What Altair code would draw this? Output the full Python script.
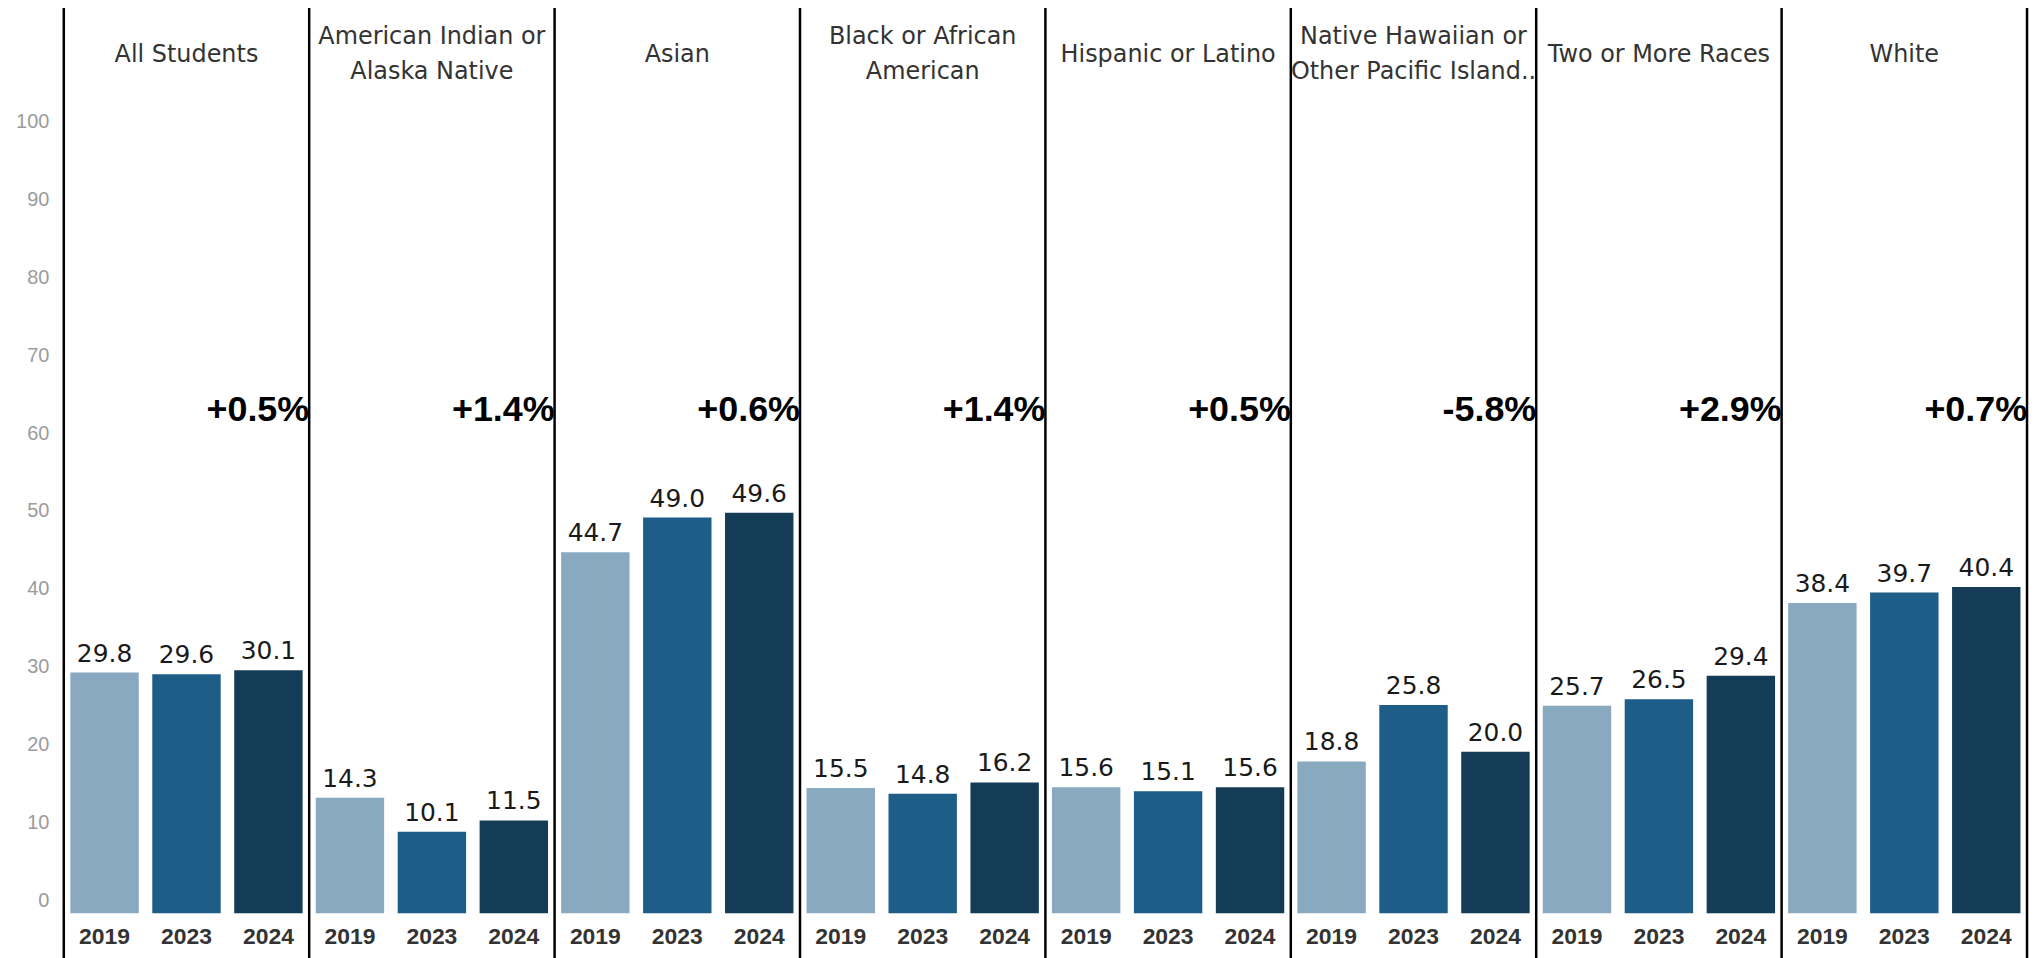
import altair as alt
import pandas as pd

groups = ["All Students", "American Indian or Alaska Native", "Asian",
          "Black or African American", "Hispanic or Latino",
          "Native Hawaiian or Other Pacific Islander", "Two or More Races", "White"]
headers = ["All Students", "American Indian or\nAlaska Native", "Asian",
           "Black or African\nAmerican", "Hispanic or Latino",
           "Native Hawaiian or\nOther Pacific Island..", "Two or More Races", "White"]
years = ["2019", "2023", "2024"]
v2019 = [29.8, 14.3, 44.7, 15.5, 15.6, 18.8, 25.7, 38.4]
v2023 = [29.6, 10.1, 49.0, 14.8, 15.1, 25.8, 26.5, 39.7]
v2024 = [30.1, 11.5, 49.6, 16.2, 15.6, 20.0, 29.4, 40.4]
changes = ["+0.5%", "+1.4%", "+0.6%", "+1.4%", "+0.5%", "-5.8%", "+2.9%", "+0.7%"]
change_level = 62.3
y_ticks = [0, 10, 20, 30, 40, 50, 60, 70, 80, 90, 100]
colors = ["#88a9c0", "#1d5d88", "#153c57"]

rows = []
for i, g in enumerate(groups):
    for y, vals in zip(years, [v2019, v2023, v2024]):
        rows.append({"group": g, "year": y, "value": vals[i]})
bars_df = pd.DataFrame(rows)
gdf = pd.DataFrame({"group": groups, "header": headers, "change": changes})
gdf["lines"] = gdf["header"].str.count("\n") + 1
tick_df = pd.DataFrame({"tick": y_ticks})

FONT = "Liberation Sans"
LBLFONT = "DejaVu Sans"
xscale = alt.Scale(domain=groups, paddingInner=0, paddingOuter=0)
def xg(bp=None):
    if bp is None:
        return alt.X("group:N", sort=groups, scale=xscale, axis=None)
    return alt.X("group:N", sort=groups, scale=xscale, axis=None, bandPosition=bp)

xo = alt.XOffset("year:N", sort=years,
                 scale=alt.Scale(domain=years, paddingInner=0.165, paddingOuter=0.08))
ysc = alt.Scale(domain=[0, 100], nice=False, zero=True)

bars = alt.Chart(bars_df).mark_bar().encode(
    x=xg(), xOffset=xo,
    y=alt.Y("value:Q", scale=ysc,
            axis=alt.Axis(values=y_ticks, grid=True, gridColor="#efefef", gridWidth=1.5,
                          labels=False, ticks=False, domain=False, title=None)),
    color=alt.Color("year:N", scale=alt.Scale(domain=years, range=colors), legend=None),
)

vals = alt.Chart(bars_df).mark_text(baseline="bottom", dy=-6, fontSize=25,
                                    color="#1a1a1a", font=LBLFONT).encode(
    x=xg(0.5), xOffset=xo,
    y=alt.Y("value:Q", scale=ysc, axis=None),
    text=alt.Text("value:Q", format=".1f"),
)

yearlbl = alt.Chart(bars_df).mark_text(baseline="middle", fontSize=23, fontWeight="bold",
                                       color="#333333", font=FONT).encode(
    x=xg(0.5), xOffset=xo, y=alt.value(835), text="year:N",
)

hdr1 = alt.Chart(gdf).transform_filter("datum.lines == 1").mark_text(
    baseline="middle", fontSize=24, color="#333333", font=LBLFONT).encode(
    x=xg(0.5), y=alt.value(-51), text="header:N",
)
hdr2 = alt.Chart(gdf).transform_filter("datum.lines == 2").mark_text(
    baseline="middle", lineBreak="\n", lineHeight=35,
    fontSize=24, color="#333333", font=LBLFONT).encode(
    x=xg(0.5), y=alt.value(-68.5), text="header:N",
)

pct = alt.Chart(gdf).mark_text(align="right", baseline="middle", fontSize=36,
                               fontWeight="bold", color="#000000", font=FONT).encode(
    x=xg(1), y=alt.Y(datum=change_level, scale=ysc, axis=None), text="change:N",
)

rules = alt.Chart(gdf).mark_rule(color="#000000", strokeWidth=2.5).encode(
    x=xg(0), y=alt.value(-99), y2=alt.value(860),
)
rule_end = alt.Chart(gdf.tail(1)).mark_rule(color="#000000", strokeWidth=2.5).encode(
    x=xg(1), y=alt.value(-99), y2=alt.value(860),
)

inner = alt.layer(bars, vals, yearlbl, hdr1, hdr2, pct, rules, rule_end)

ylab = alt.Chart(tick_df).mark_point(opacity=0).encode(
    y=alt.Y("tick:Q", scale=alt.Scale(domain=[-1.66, 102.07], nice=False, zero=False),
            axis=alt.Axis(orient="left", values=y_ticks, grid=False, ticks=False,
                          domain=False, labelColor="#9b9b9b", labelFontSize=20,
                          labelFont=FONT, labelPadding=15, title=None)),
)

chart = alt.layer(inner, ylab).resolve_scale(y="independent").properties(
    width=1971, height=811,
    padding={"left": 56, "top": 96, "right": 6, "bottom": 45},
    autosize=alt.AutoSizeParams(type="none"),
    background="white",
).configure_view(stroke=None)

chart.save("out.html", embed_options={"renderer": "svg", "actions": False})
